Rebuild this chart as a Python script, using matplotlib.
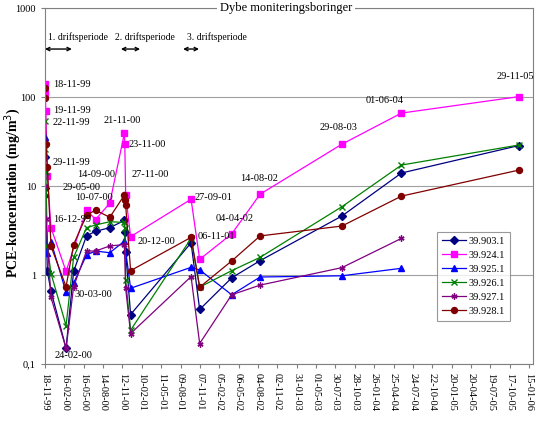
import matplotlib
matplotlib.use("Agg")
import matplotlib.pyplot as plt
from datetime import date, timedelta

plt.rcParams['font.family'] = ['Liberation Serif', 'DejaVu Serif']

# prøvedatoer (dd-mm-yy)
d = ["18-11-99", "19-11-99", "22-11-99", "29-11-99", "16-12-99", "24-02-00",
     "30-03-00", "29-05-00", "10-07-00", "14-09-00", "21-11-00", "23-11-00",
     "27-11-00", "20-12-00", "27-09-01", "06-11-01", "04-04-02", "14-08-02",
     "29-08-03", "01-06-04", "29-11-05"]

def dt(s):
    dd, mm, yy = s.split("-")
    return date(2000 + int(yy) if int(yy) < 50 else 1900 + int(yy), int(mm), int(dd))

# serier: indeks i d og værdier (mg/m3)
b903_idx = [0, 1, 3, 4, 5, 6, 7, 8, 9, 10, 11, 12, 13, 14, 15, 16, 17, 18, 19, 20]
b903_val = [21, 9.5, 1.1, 0.66, 0.15, 1.1, 2.75, 3.1, 3.4, 4.1, 3.05, 1.8, 0.36,
            2.3, 0.41, 0.93, 1.45, 4.6, 14, 28.5]
b924_idx = [0, 1, 2, 3, 4, 5, 7, 8, 9, 10, 11, 12, 13, 14, 15, 16, 17, 18, 19, 20]
b924_val = [140, 110, 70, 13, 3.4, 1.1, 5.4, 4.2, 6.4, 39, 29.5, 8, 2.7,
            7.1, 1.5, 2.9, 8.1, 29.5, 66, 101]
b925_idx = [0, 1, 3, 4, 5, 6, 7, 8, 9, 10, 13, 14, 15, 16, 17, 18, 19]
b925_val = [36, 8.1, 1.77, 2.37, 0.64, 0.81, 1.68, 1.86, 1.78, 2.4, 0.71,
            1.22, 1.14, 0.6, 0.95, 0.98, 1.19]
b926_idx = [0, 1, 2, 3, 4, 5, 6, 7, 8, 9, 10, 11, 12, 13, 14, 15, 16, 17, 18, 19, 20]
b926_val = [54, 26, 14.5, 2.1, 1.04, 0.27, 1.58, 3.4, 3.65, 3.97, 3.9, 3.4, 0.88,
            0.24, 2.58, 0.73, 1.12, 1.58, 5.85, 17.2, 28.9]
b927_idx = [0, 2, 4, 5, 6, 7, 8, 9, 10, 12, 13, 14, 15, 16, 17, 18, 19]
b927_val = [10, 4.3, 0.56, 0.15, 0.74, 1.86, 1.86, 2.12, 2.2, 0.71, 0.22,
            0.96, 0.17, 0.6, 0.77, 1.21, 2.58]
b928_idx = [0, 1, 2, 3, 4, 5, 6, 7, 8, 9, 10, 11, 12, 13, 14, 15, 16, 17, 18, 19, 20]
b928_val = [125, 97, 30, 16.5, 2.1, 0.74, 2.2, 4.7, 5.36, 4.45, 7.9, 7.0, 6.1,
            1.12, 2.65, 0.73, 1.44, 2.75, 3.55, 7.7, 15.1]

series = [
    ("39.903.1", "#000080", "D", b903_idx, b903_val),
    ("39.924.1", "#FF00FF", "s", b924_idx, b924_val),
    ("39.925.1", "#0000FF", "^", b925_idx, b925_val),
    ("39.926.1", "#008000", "x", b926_idx, b926_val),
    ("39.927.1", "#800080", (6, 2, 0), b927_idx, b927_val),
    ("39.928.1", "#800000", "o", b928_idx, b928_val),
]

# datolabels i diagrammet (tekst, dage efter 18-11-99, y-værdi)
labels = [("18-11-99", 37, 140), ("19-11-99", 37, 71), ("22-11-99", 37, 52),
          ("29-11-99", 37, 18.6), ("14-09-00", 149, 13.6), ("29-05-00", 84, 9.7),
          ("10-07-00", 139, 7.5), ("16-12-99", 37, 4.26), ("21-11-00", 270, 55),
          ("23-11-00", 390, 28.9), ("27-11-00", 404, 13.3), ("20-12-00", 428, 2.41),
          ("30-03-00", 139, 0.61), ("24-02-00", 46, 0.126), ("27-09-01", 693, 7.5),
          ("06-11-01", 711, 2.74), ("04-04-02", 795, 4.37), ("14-08-02", 907, 12),
          ("29-08-03", 1278, 44.9), ("01-06-04", 1492, 92.5), ("29-11-05", 2101, 172)]

# driftsperioder (tekst, tekststart, pil start, pil slut - i dage)
perioder = [("1. driftsperiode", 14, 0, 125), ("2. driftsperiode", 325, 353, 442),
            ("3. driftsperiode", 660, 642, 716)]

start = date(1999, 11, 18)

fig = plt.figure(figsize=(5.44, 4.22), dpi=100)
ax = fig.add_axes([0.0827, 0.1374, 0.8973, 0.8436])

for name, col, mk, idx, val in series:
    xs = [dt(d[i]) for i in idx]
    ax.plot(xs, val, color=col, marker=mk, lw=0.9, ms=4.3, mew=1.0, label=name)

ax.set_yscale("log")
ax.set_ylim(0.1, 1000)
ax.set_xlim(start, start + timedelta(days=2269))
ax.set_yticks([0.1, 1, 10, 100, 1000])
ax.set_yticklabels(["0,1", "1", "10", "100", "1000"], fontsize=7.5)
ax.yaxis.set_minor_locator(matplotlib.ticker.NullLocator())
ticks = [start + timedelta(days=90 * k) for k in range(26)]
ax.set_xticks(ticks)
ax.set_xticklabels([t.strftime("%d-%m-%y") for t in ticks], rotation=270, fontsize=7.5)
ax.tick_params(axis="both", colors="#808080", labelcolor="black", length=3, width=0.8)
ax.grid(axis="y", color="#A0A0A0", lw=0.8)
for s in ax.spines.values():
    s.set_color("#808080")
    s.set_linewidth(0.8)

ax.set_ylabel("PCE-koncentration (mg/m$^3$)", fontsize=10, fontweight="bold")
ax.yaxis.set_label_coords(-0.046, 0.48)

for txt, dd_, v in labels:
    ax.text(start + timedelta(days=dd_), v, txt, fontsize=7.5, ha="left", va="center")

for txt, t0, a, b in perioder:
    ax.annotate("", xy=(start + timedelta(days=a), 346), xytext=(start + timedelta(days=b), 346),
                arrowprops=dict(arrowstyle="<->", color="black", lw=1.0, shrinkA=0, shrinkB=0,
                                mutation_scale=6))
    ax.text(start + timedelta(days=t0), 472, txt, fontsize=7, ha="left", va="center")

ax.text(0.494, 1.0, "Dybe moniteringsboringer", transform=ax.transAxes, fontsize=9,
        ha="center", va="center", bbox=dict(facecolor="white", edgecolor="none", pad=2))

leg = ax.legend(loc="upper left", bbox_to_anchor=(0.803, 0.371), fontsize=7.5, frameon=True,
                fancybox=False, edgecolor="#808080", borderpad=0.45, labelspacing=0.45,
                handlelength=2.3, handletextpad=0.3, borderaxespad=0)
leg.get_frame().set_linewidth(0.8)

fig.savefig("out.png", dpi=100)
